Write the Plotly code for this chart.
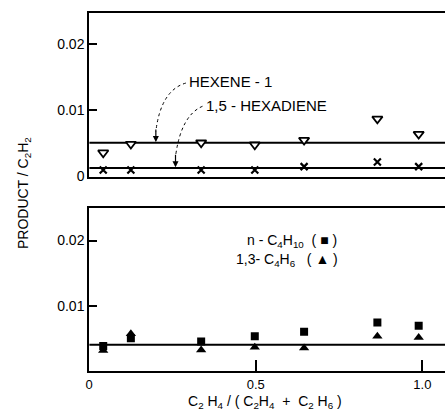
import plotly.graph_objects as go

# ---- data ----
x_vals = [0.042, 0.125, 0.336, 0.497, 0.645, 0.865, 0.989]
hexene1 = [0.0036, 0.0049, 0.0051, 0.0048, 0.0055, 0.0087, 0.0064]
hexadiene = [0.0010, 0.0010, 0.0010, 0.0010, 0.0015, 0.0022, 0.0015]
butane = [0.0038, 0.0050, 0.0045, 0.0053, 0.0060, 0.0074, 0.0069]
butadiene = [0.0031, 0.0057, 0.0032, 0.0036, 0.0035, 0.0053, 0.0051]

fit_x = [0.0, 1.07]
fit_hexene1 = [0.0051, 0.0051]
fit_hexadiene = [0.0013, 0.0013]
fit_bottom = [0.0040, 0.0040]

FONT = "Liberation Sans"
BLACK = "black"

fig = go.Figure()

# top panel fit lines
fig.add_trace(go.Scatter(x=fit_x, y=fit_hexene1, mode="lines",
                         line=dict(color=BLACK, width=2), xaxis="x", yaxis="y",
                         showlegend=False))
fig.add_trace(go.Scatter(x=fit_x, y=fit_hexadiene, mode="lines",
                         line=dict(color=BLACK, width=2), xaxis="x", yaxis="y",
                         showlegend=False))
fig.add_trace(go.Scatter(x=x_vals, y=hexene1, mode="markers",
                         marker=dict(symbol="triangle-down", size=9, color="white",
                                     line=dict(color=BLACK, width=1.8)),
                         xaxis="x", yaxis="y", showlegend=False))
fig.add_trace(go.Scatter(x=x_vals, y=hexadiene, mode="markers",
                         marker=dict(symbol="x-thin-open", size=7, color=BLACK,
                                     line=dict(color=BLACK, width=2.2)),
                         xaxis="x", yaxis="y", showlegend=False))

# bottom panel
fig.add_trace(go.Scatter(x=fit_x, y=fit_bottom, mode="lines",
                         line=dict(color=BLACK, width=2), xaxis="x2", yaxis="y2",
                         showlegend=False))
fig.add_trace(go.Scatter(x=x_vals, y=butane, mode="markers",
                         marker=dict(symbol="square", size=8, color=BLACK),
                         xaxis="x2", yaxis="y2", showlegend=False))
fig.add_trace(go.Scatter(x=x_vals, y=butadiene, mode="markers",
                         marker=dict(symbol="triangle-up", size=9, color=BLACK),
                         xaxis="x2", yaxis="y2", showlegend=False))

XR = [0, 1.068]
XD = [86 / 445, 1.0]
common_x = dict(range=XR, domain=XD, showgrid=False, zeroline=False,
                showline=True, linecolor=BLACK, linewidth=2, mirror=True)
common_y = dict(showgrid=False, zeroline=False, showline=True, linecolor=BLACK,
                linewidth=2, ticks="inside", ticklen=8, tickwidth=1.5,
                tickcolor=BLACK, tickfont=dict(family=FONT, size=14, color=BLACK))

fig.update_layout(
    width=445, height=420,
    margin=dict(l=0, r=0, t=0, b=0),
    paper_bgcolor="white", plot_bgcolor="white",
    font=dict(family=FONT, color=BLACK),
    xaxis=dict(**common_x, anchor="y", showticklabels=False, ticks=""),
    yaxis=dict(**common_y, domain=[1 - 180 / 420, 1 - 13 / 420], range=[0, 0.0247],
               anchor="x", tickvals=[0, 0.01, 0.02], ticktext=["0", "0.01", "0.02"]),
    xaxis2=dict(**common_x, anchor="y2", tickvals=[0, 0.5, 1.0],
                ticktext=["0", "0.5", "1.0"], ticks="inside", ticklen=11,
                tickwidth=1.5, tickcolor=BLACK, ticklabelstandoff=1,
                tickfont=dict(family=FONT, size=13, color=BLACK)),
    yaxis2=dict(**common_y, domain=[1 - 378 / 420, 1 - 212 / 420], range=[0, 0.025],
                anchor="x2", tickvals=[0.01, 0.02], ticktext=["0.01", "0.02"]),
)

# curved leader lines
fig.add_shape(type="path", xref="x", yref="y",
              path="M 0.290,0.0141 Q 0.215,0.0130 0.200,0.0068",
              line=dict(color=BLACK, width=1, dash="dot"))
fig.add_shape(type="path", xref="x", yref="y",
              path="M 0.340,0.0106 Q 0.275,0.0092 0.259,0.0030",
              line=dict(color=BLACK, width=1, dash="dot"))

annotations = [
    dict(x=0.200, y=0.0052, xref="x", yref="y", ax=0, ay=-14, text="",
         showarrow=True, arrowhead=2, arrowsize=1, arrowwidth=1.2, arrowcolor=BLACK),
    dict(x=0.259, y=0.0014, xref="x", yref="y", ax=0, ay=-14, text="",
         showarrow=True, arrowhead=2, arrowsize=1, arrowwidth=1.2, arrowcolor=BLACK),
    dict(x=0.293, y=0.0143, xref="x", yref="y", text="HEXENE - 1", showarrow=False,
         xanchor="left", yanchor="middle", font=dict(family=FONT, size=15, color=BLACK)),
    dict(x=0.345, y=0.0107, xref="x", yref="y", text="1,5 - HEXADIENE", showarrow=False,
         xanchor="left", yanchor="middle", font=dict(family=FONT, size=15, color=BLACK)),
    dict(x=0.61, y=0.0200, xref="x2", yref="y2",
         text="n - C<sub>4</sub>H<sub>10</sub>  ( ■ )", showarrow=False,
         xanchor="center", yanchor="middle",
         font=dict(family=FONT, size=14, color=BLACK)),
    dict(x=0.595, y=0.0170, xref="x2", yref="y2",
         text="1,3- C<sub>4</sub>H<sub>6</sub>   ( ▲ )", showarrow=False,
         xanchor="center", yanchor="middle",
         font=dict(family=FONT, size=14, color=BLACK)),
    dict(x=20 / 445, y=1 - 197 / 420, xref="paper", yref="paper",
         text="PRODUCT / C<sub>2</sub>H<sub>2</sub>", textangle=-90, showarrow=False,
         xanchor="center", yanchor="middle",
         font=dict(family=FONT, size=14, color=BLACK)),
    dict(x=263 / 445, y=0, xref="paper", yref="paper",
         text="C<sub>2</sub> H<sub>4</sub> / ( C<sub>2</sub>H<sub>4</sub>  +  C<sub>2</sub> H<sub>6</sub> )",
         showarrow=False, xanchor="center", yanchor="bottom", borderpad=0,
         font=dict(family=FONT, size=14, color=BLACK)),
]
fig.update_layout(annotations=annotations)

fig.write_html("out.html")
